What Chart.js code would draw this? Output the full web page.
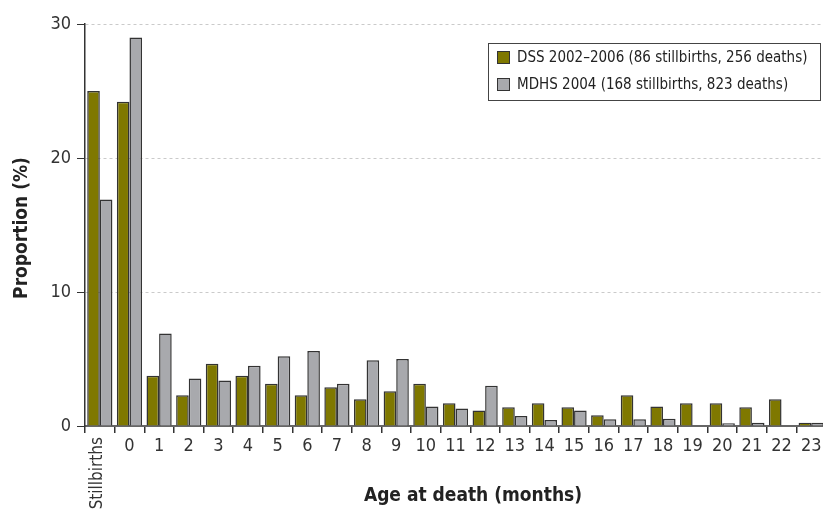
<!DOCTYPE html>
<html>
<head>
<meta charset="utf-8">
<script src="https://cdn.jsdelivr.net/npm/chart.js@4.4.0/dist/chart.umd.min.js"></script>
<style>
  html, body { margin: 0; padding: 0; background: #fff; overflow: hidden; }
  #wrap { width: 830px; height: 510px; }
</style>
</head>
<body>
<div id="wrap"><canvas id="deathsChart" width="830" height="510"></canvas></div>
<script>
const categories = ['Stillbirths', '0', '1', '2', '3', '4', '5', '6', '7', '8', '9', '10', '11',
    '12', '13', '14', '15', '16', '17', '18', '19', '20', '21', '22', '23'];
const dssValues = [25.0, 24.2, 3.75, 2.3, 4.65, 3.75, 3.15, 2.3, 2.9, 2.0, 2.6, 3.15, 1.7,
    1.15, 1.4, 1.7, 1.4, 0.8, 2.3, 1.45, 1.7, 1.7, 1.4, 2.0, 0.25];
const mdhsValues = [16.9, 29.0, 6.9, 3.55, 3.4, 4.5, 5.2, 5.6, 3.15, 4.9, 5.0, 1.45, 1.3,
    3.0, 0.75, 0.45, 1.15, 0.5, 0.5, 0.55, 0, 0.2, 0.25, 0, 0.25];
const seriesLabels = ['DSS 2002\u20132006 (86 stillbirths, 256 deaths)', 'MDHS 2004 (168 stillbirths, 823 deaths)'];
const yTicks = [0, 10, 20, 30];
const xTitle = 'Age at death (months)';
const yTitle = 'Proportion (%)';

const FONT = "'Liberation Sans Narrow', 'DejaVu Sans Condensed', 'Liberation Sans', sans-serif";
const olive = '#7f7800';
const grey = '#a8a9ad';

// rotated "Stillbirths" label, axis titles and the boxed legend
const extras = {
    id: 'extras',
    afterDraw(chart) {
        const ctx = chart.ctx;
        const x = chart.scales.x;
        ctx.save();
        ctx.fillStyle = '#333';
        ctx.font = '17px ' + FONT;
        ctx.translate(x.getPixelForValue(0) - 2, 437);
        ctx.rotate(-Math.PI / 2);
        ctx.textAlign = 'right';
        ctx.textBaseline = 'middle';
        ctx.fillText(categories[0], 0, 0);
        ctx.restore();

        // titles
        ctx.save();
        ctx.fillStyle = '#222';
        ctx.font = 'bold 19px ' + FONT;
        ctx.textAlign = 'center';
        ctx.textBaseline = 'middle';
        ctx.fillText(xTitle, 473, 496);
        ctx.translate(22, 228);
        ctx.rotate(-Math.PI / 2);
        ctx.fillText(yTitle, 0, 0);
        ctx.restore();

        ctx.save();
        ctx.strokeStyle = '#444';
        ctx.lineWidth = 1;
        ctx.fillStyle = '#fff';
        ctx.fillRect(488.5, 43.5, 332, 57);
        ctx.strokeRect(488.5, 43.5, 332, 57);
        const colors = [olive, grey];
        ctx.font = '15px ' + FONT;
        ctx.textBaseline = 'middle';
        seriesLabels.forEach(function (t, i) {
            const cy = 58 + i * 27;
            ctx.fillStyle = colors[i];
            ctx.fillRect(497.5, cy - 6.5, 12, 12);
            ctx.strokeStyle = '#333';
            ctx.strokeRect(497.5, cy - 6.5, 12, 12);
            ctx.fillStyle = '#222';
            ctx.fillText(t, 517, cy);
        });
        ctx.restore();
    }
};

const ctx = document.getElementById('deathsChart').getContext('2d');
new Chart(ctx, {
    type: 'bar',
    data: {
        labels: categories,
        datasets: [{
            label: seriesLabels[0],
            data: dssValues,
            backgroundColor: olive,
            borderColor: '#333',
            borderWidth: 1.5
        }, {
            label: seriesLabels[1],
            data: mdhsValues,
            backgroundColor: grey,
            borderColor: '#333',
            borderWidth: 1.5
        }]
    },
    options: {
        responsive: false,
        animation: false,
        layout: { padding: { top: 24, right: 4, left: 0, bottom: 0 } },
        datasets: { bar: { categoryPercentage: 0.85, barPercentage: 1.0 } },
        scales: {
            x: {
                afterFit(s) { s.height = 84; },
                grid: {
                    offset: true,
                    drawOnChartArea: false,
                    tickLength: 7,
                    tickColor: '#333',
                    lineWidth: 1.5
                },
                border: { color: '#666', width: 2 },
                ticks: {
                    autoSkip: false,
                    maxRotation: 0,
                    minRotation: 0,
                    padding: 3,
                    color: '#333',
                    font: { family: FONT, size: 18 },
                    callback: function (v, i) { return i === 0 ? '' : categories[i]; }
                },
                title: { display: false }
            },
            y: {
                min: 0,
                max: 30,
                afterFit(s) { s.width = 85; },
                afterBuildTicks(s) { s.ticks = yTicks.map(function (v) { return { value: v }; }); },
                grid: {
                    color: function (c) { return c.tick && c.tick.value === 0 ? 'rgba(0,0,0,0)' : '#cacaca'; },
                    tickColor: '#333',
                    tickLength: 8,
                    tickBorderDash: [],
                    lineWidth: 1
                },
                border: { color: '#333', width: 1.5, dash: [3, 3] },
                ticks: {
                    padding: 6,
                    color: '#333',
                    font: { family: FONT, size: 18 }
                },
                title: { display: false }
            }
        },
        plugins: {
            legend: { display: false },
            tooltip: { enabled: false }
        }
    },
    plugins: [extras]
});
</script>
</body>
</html>
